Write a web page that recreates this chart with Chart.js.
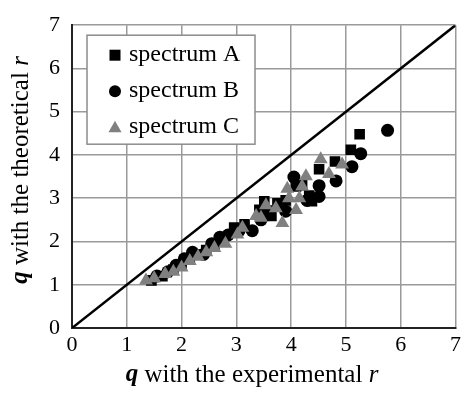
<!DOCTYPE html>
<html>
<head>
<meta charset="utf-8">
<script src="https://cdn.jsdelivr.net/npm/chart.js@4.4.0/dist/chart.umd.min.js"></script>
<style>
  html, body { margin: 0; padding: 0; background: #fff; }
  #wrap { width: 465px; height: 393px; }
</style>
</head>
<body>
<div id="wrap"><canvas id="qChart" width="465" height="393"></canvas></div>
<script>
// q with experimental r (x) vs q with theoretical r (y)
const specA_x = [1.45, 1.65, 1.85, 2.0, 2.15, 2.3, 2.45, 2.6, 2.75, 2.96, 3.15, 3.42, 3.51, 3.64, 3.75, 3.9, 4.09, 4.2, 4.33, 4.38, 4.51, 4.8, 5.09, 5.25];
const specA_y = [1.1, 1.2, 1.35, 1.45, 1.6, 1.7, 1.8, 1.9, 2.05, 2.32, 2.4, 2.73, 2.93, 2.59, 2.88, 2.95, 3.27, 3.3, 3.06, 2.93, 3.67, 3.85, 4.12, 4.48];

const specB_x = [1.55, 1.75, 1.9, 2.05, 2.2, 2.4, 2.55, 2.7, 2.85, 3.05, 3.29, 3.45, 3.6, 3.9, 4.05, 4.29, 4.51, 4.51, 4.82, 5.11, 5.27, 5.76];
const specB_y = [1.2, 1.3, 1.45, 1.6, 1.75, 1.7, 1.95, 2.1, 2.15, 2.25, 2.25, 2.5, 2.7, 2.7, 3.49, 2.95, 3.04, 3.29, 3.4, 3.73, 4.03, 4.57];

const specC_x = [1.35, 1.5, 1.7, 1.85, 2.0, 2.15, 2.3, 2.45, 2.6, 2.8, 3.02, 3.11, 3.36, 3.45, 3.54, 3.72, 3.84, 3.93, 3.96, 4.09, 4.15, 4.2, 4.27, 4.54, 4.69, 4.93];
const specC_y = [1.1, 1.15, 1.25, 1.3, 1.4, 1.55, 1.65, 1.75, 1.85, 1.95, 2.16, 2.32, 2.59, 2.55, 2.84, 2.77, 2.43, 3.22, 3.0, 2.73, 3.0, 3.27, 3.51, 3.9, 3.56, 3.78];

const diagX = [0, 7];
const diagY = [0, 7];
const tickValues = [0, 1, 2, 3, 4, 5, 6, 7];
const seriesNames = ["spectrum A", "spectrum B", "spectrum C"];

const FONT = "'Liberation Serif', 'Times New Roman', serif";

function toPoints(xs, ys) {
  return xs.map((x, i) => ({ x: x, y: ys[i] }));
}

// axis titles with mixed bold-italic / italic parts
function drawParts(ctx, parts) {
  let total = 0;
  parts.forEach(p => { ctx.font = p.font; p.w = ctx.measureText(p.text).width; total += p.w; });
  let x = -total / 2;
  parts.forEach(p => { ctx.font = p.font; ctx.fillText(p.text, x, 0); x += p.w; });
}

const titlesAndLegend = {
  id: "titlesAndLegend",
  afterDraw(chart) {
    const ctx = chart.ctx;
    const area = chart.chartArea;
    ctx.save();
    ctx.fillStyle = "#000";
    ctx.textBaseline = "middle";
    ctx.textAlign = "left";

    const size = 25;
    const xt = [
      { text: "q", font: "italic bold " + size + "px " + FONT },
      { text: " with the experimental ", font: size + "px " + FONT },
      { text: "r", font: "italic " + size + "px " + FONT }
    ];
    ctx.save();
    ctx.translate(252, 375);
    drawParts(ctx, xt);
    ctx.restore();

    const yt = [
      { text: "q", font: "italic bold " + size + "px " + FONT },
      { text: " with the theoretical ", font: size + "px " + FONT },
      { text: "r", font: "italic " + size + "px " + FONT }
    ];
    ctx.save();
    ctx.translate(21, 170);
    ctx.rotate(-Math.PI / 2);
    drawParts(ctx, yt);
    ctx.restore();

    // legend box
    const bx = area.left + 15, by = area.top + 10, bw = 168, bh = 109;
    ctx.fillStyle = "#fff";
    ctx.fillRect(bx, by, bw, bh);
    ctx.strokeStyle = "#8c8c8c";
    ctx.lineWidth = 1.5;
    ctx.strokeRect(bx, by, bw, bh);

    chart.data.datasets.slice(0, 3).forEach((ds, i) => {
      const cy = by + 20 + i * 36;
      const mx = bx + 28;
      ctx.fillStyle = ds.backgroundColor;
      ctx.beginPath();
      if (ds.pointStyle === "rect") {
        ctx.rect(mx - 5.5, cy - 5.5, 11, 11);
      } else if (ds.pointStyle === "circle") {
        ctx.arc(mx, cy, 6, 0, Math.PI * 2);
      } else {
        ctx.moveTo(mx, cy - 6.5);
        ctx.lineTo(mx + 6.5, cy + 5);
        ctx.lineTo(mx - 6.5, cy + 5);
        ctx.closePath();
      }
      ctx.fill();
      ctx.fillStyle = "#000";
      ctx.font = "24px " + FONT;
      ctx.fillText(seriesNames[i], mx + 14, cy);
    });
    ctx.restore();
  }
};

const ctx = document.getElementById("qChart").getContext("2d");
const qChart = new Chart(ctx, {
  type: "scatter",
  data: {
    datasets: [
      {
        label: seriesNames[0],
        data: toPoints(specA_x, specA_y),
        pointStyle: "rect",
        pointRadius: 7.5,
        backgroundColor: "#000",
        borderColor: "#000",
        borderWidth: 0,
        order: 3
      },
      {
        label: seriesNames[1],
        data: toPoints(specB_x, specB_y),
        pointStyle: "circle",
        pointRadius: 6.5,
        backgroundColor: "#000",
        borderColor: "#000",
        borderWidth: 0,
        order: 2
      },
      {
        label: seriesNames[2],
        data: toPoints(specC_x, specC_y),
        pointStyle: "triangle",
        pointRadius: 8,
        backgroundColor: "#808080",
        borderColor: "#808080",
        borderWidth: 0,
        order: 1
      },
      {
        label: "y = x",
        type: "line",
        data: toPoints(diagX, diagY),
        borderColor: "#000",
        borderWidth: 2.5,
        pointRadius: 0,
        fill: false,
        order: 0
      }
    ]
  },
  options: {
    responsive: false,
    animation: false,
    layout: { padding: { top: 17, right: 8, left: 0, bottom: 0 } },
    plugins: {
      legend: { display: false },
      tooltip: { enabled: false }
    },
    scales: {
      x: {
        type: "linear",
        min: 0,
        max: 7,
        afterBuildTicks: (s) => { s.ticks = tickValues.map(v => ({ value: v })); },
        afterFit: (s) => { s.height = 65; },
        ticks: { color: "#000", font: { family: FONT, size: 22 }, padding: 4 },
        grid: { color: "#9a9a9a", lineWidth: 1.5, drawTicks: false },
        border: { color: "#222", width: 2 }
      },
      y: {
        type: "linear",
        min: 0,
        max: 7,
        afterBuildTicks: (s) => { s.ticks = tickValues.map(v => ({ value: v })); },
        afterFit: (s) => { s.width = 72; },
        ticks: { color: "#000", font: { family: FONT, size: 22 }, padding: 12 },
        grid: { color: "#9a9a9a", lineWidth: 1.5, drawTicks: false },
        border: { color: "#222", width: 2 }
      }
    }
  },
  plugins: [titlesAndLegend]
});
</script>
</body>
</html>
